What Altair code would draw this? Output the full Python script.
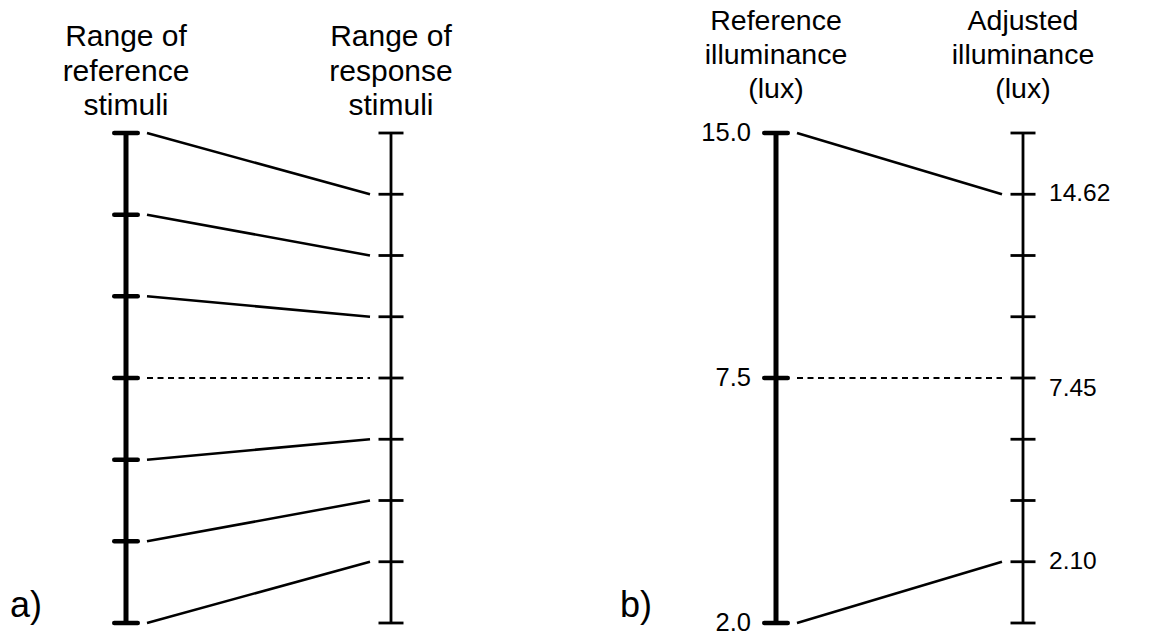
import altair as alt
import pandas as pd

# ---------------- data ----------------
# panel a: schematic ranges (tick counts, link pairs by tick index from top)
a_ref_ticks = 7
a_resp_ticks = 9
a_links_from = [0, 1, 2, 3, 4, 5, 6]
a_links_to = [1, 2, 3, 4, 5, 6, 7]
a_links_style = ["solid", "solid", "solid", "dashed", "solid", "solid", "solid"]

# panel b: illuminance
b_ref_ticks = 3
b_ref_labels = ["15.0", "7.5", "2.0"]
b_adj_ticks = 9
b_adj_label_idx = [1, 4, 7]
b_adj_labels = ["14.62", "7.45", "2.10"]
b_adj_label_nudge = [0, 1, 0]
b_links_from = [0, 1, 2]
b_links_to = [1, 4, 7]
b_links_style = ["solid", "dashed", "solid"]

headers_a = ["Range of\nreference\nstimuli", "Range of\nresponse\nstimuli"]
headers_b = ["Reference\nilluminance\n(lux)", "Adjusted\nilluminance\n(lux)"]
panel_tags = ["a)", "b)"]

# ---------------- layout ----------------
FONT = "Liberation Sans"
W, H = 1135, 628
X_A_L, X_A_R, X_B_L, X_B_R = 126, 391, 776, 1023
TOP_PX, BOT_PX = 133, 623
PPU = BOT_PX - TOP_PX
V_LO = ((BOT_PX - 8) - H) / PPU
V_HI = (BOT_PX - 8) / PPU


def frac(i, n):
    return 1 - i / (n - 1)


# axes (stems)
axes = pd.DataFrame({
    "x": [X_A_L, X_A_R, X_B_L, X_B_R],
    "v0": [0, 0, 0, 0],
    "v1": [1, 1, 1, 1],
    "kind": ["thick", "thin", "thick", "thin"],
})

# ticks
rows = []
for ax_x, n, kind in [(X_A_L, a_ref_ticks, "thick"), (X_A_R, a_resp_ticks, "thin"),
                      (X_B_L, b_ref_ticks, "thick"), (X_B_R, b_adj_ticks, "thin")]:
    half = 11.75 if kind == "thick" else 12.5
    for i in range(n):
        rows.append({"x1": ax_x - half, "x2": ax_x + half, "v": frac(i, n), "kind": kind})
ticks = pd.DataFrame(rows)

# links
rows = []
for f, t, s in zip(a_links_from, a_links_to, a_links_style):
    rows.append({"x1": X_A_L + 21, "x2": X_A_R - 21,
                 "v1": frac(f, a_ref_ticks), "v2": frac(t, a_resp_ticks), "style": s})
for f, t, s in zip(b_links_from, b_links_to, b_links_style):
    rows.append({"x1": X_B_L + 21, "x2": X_B_R - 21,
                 "v1": frac(f, b_ref_ticks), "v2": frac(t, b_adj_ticks), "style": s})
links = pd.DataFrame(rows)

# tick labels
left_labels = pd.DataFrame({
    "x": [X_B_L - 25] * b_ref_ticks,
    "v": [frac(i, b_ref_ticks) for i in range(b_ref_ticks)],
    "t": b_ref_labels,
})
right_labels = pd.DataFrame({
    "x": [X_B_R + 26] * len(b_adj_labels),
    "v": [frac(i, b_adj_ticks) for i in b_adj_label_idx],
    "t": b_adj_labels,
    "nudge": b_adj_label_nudge,
})

hdr_a = pd.DataFrame({"x": [X_A_L, X_A_R], "t": headers_a})
hdr_b = pd.DataFrame({"x": [X_B_L, X_B_R], "t": headers_b})
tags = pd.DataFrame({"x": [10, 620], "t": panel_tags})

# ---------------- chart ----------------
xs = alt.Scale(domain=[8, 8 + W], nice=False, zero=False)
ys = alt.Scale(domain=[V_LO, V_HI], nice=False, zero=False)

stem_thick = alt.Chart(axes).transform_filter("datum.kind == 'thick'").mark_rule(
    color="black", strokeWidth=5).encode(
    x=alt.X("x:Q", scale=xs, axis=None),
    y=alt.Y("v0:Q", scale=ys, axis=None), y2="v1:Q")
stem_thin = alt.Chart(axes).transform_filter("datum.kind == 'thin'").mark_rule(
    color="black", strokeWidth=2.8).encode(
    x=alt.X("x:Q", scale=xs, axis=None),
    y=alt.Y("v0:Q", scale=ys, axis=None), y2="v1:Q")

tick_thick = alt.Chart(ticks).transform_filter("datum.kind == 'thick'").mark_rule(
    color="black", strokeWidth=4.5, strokeCap="round").encode(
    x=alt.X("x1:Q", scale=xs, axis=None), x2="x2:Q",
    y=alt.Y("v:Q", scale=ys, axis=None))
tick_thin = alt.Chart(ticks).transform_filter("datum.kind == 'thin'").mark_rule(
    color="black", strokeWidth=2.8).encode(
    x=alt.X("x1:Q", scale=xs, axis=None), x2="x2:Q",
    y=alt.Y("v:Q", scale=ys, axis=None))

link_solid = alt.Chart(links).transform_filter("datum.style == 'solid'").mark_rule(
    color="black", strokeWidth=2.5).encode(
    x=alt.X("x1:Q", scale=xs, axis=None), x2="x2:Q",
    y=alt.Y("v1:Q", scale=ys, axis=None), y2="v2:Q")
link_dash = alt.Chart(links).transform_filter("datum.style == 'dashed'").mark_rule(
    color="black", strokeWidth=2, strokeDash=[6, 4.5]).encode(
    x=alt.X("x1:Q", scale=xs, axis=None), x2="x2:Q",
    y=alt.Y("v1:Q", scale=ys, axis=None), y2="v2:Q")

lbl_left = alt.Chart(left_labels).mark_text(
    font=FONT, fontSize=25.5, align="right", baseline="middle", color="black").encode(
    x=alt.X("x:Q", scale=xs, axis=None), y=alt.Y("v:Q", scale=ys, axis=None), text="t:N")
lbl_right = alt.Chart(right_labels).transform_filter("datum.nudge == 0").mark_text(
    font=FONT, fontSize=24.5, align="left", baseline="middle", color="black").encode(
    x=alt.X("x:Q", scale=xs, axis=None), y=alt.Y("v:Q", scale=ys, axis=None), text="t:N")
lbl_right_n = alt.Chart(right_labels).transform_filter("datum.nudge == 1").mark_text(
    font=FONT, fontSize=24.5, align="left", baseline="middle", color="black", dy=11).encode(
    x=alt.X("x:Q", scale=xs, axis=None), y=alt.Y("v:Q", scale=ys, axis=None), text="t:N")

head_a = alt.Chart(hdr_a).mark_text(
    font=FONT, fontSize=30, align="center", baseline="alphabetic", lineBreak="\n",
    lineHeight=34.6, color="black").encode(
    x=alt.X("x:Q", scale=xs, axis=None), y=alt.value(46 - 8), text="t:N")
head_b = alt.Chart(hdr_b).mark_text(
    font=FONT, fontSize=28.5, align="center", baseline="alphabetic", lineBreak="\n",
    lineHeight=34.2, color="black").encode(
    x=alt.X("x:Q", scale=xs, axis=None), y=alt.value(30 - 8), text="t:N")

tag = alt.Chart(tags).mark_text(
    font=FONT, fontSize=36, align="left", baseline="alphabetic", color="black").encode(
    x=alt.X("x:Q", scale=xs, axis=None), y=alt.value(617 - 8), text="t:N")

chart = alt.layer(
    stem_thick, stem_thin, tick_thick, tick_thin, link_solid, link_dash,
    lbl_left, lbl_right, lbl_right_n, head_a, head_b, tag
).properties(
    width=W, height=H, padding=0, autosize=alt.AutoSizeParams(type="none")
).configure_view(stroke=None)

chart.save("out.html", embed_options={"renderer": "svg", "actions": False})
